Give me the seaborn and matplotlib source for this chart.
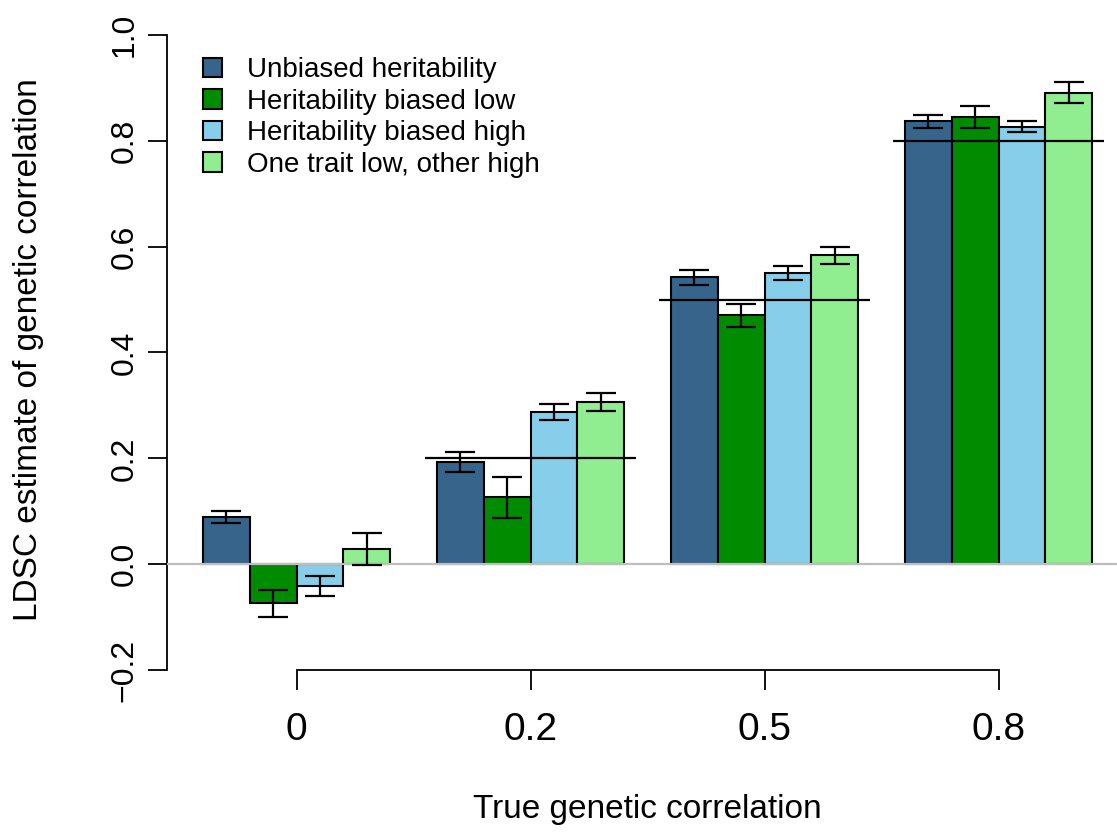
import numpy as np
import pandas as pd
import matplotlib
matplotlib.use("Agg")
import matplotlib.pyplot as plt
import seaborn as sns

# values
true_rg = ["0", "0.2", "0.5", "0.8"]
true_rg_values = [0.0, 0.2, 0.5, 0.8]
scenarios = [
    "Unbiased heritability",
    "Heritability biased low",
    "Heritability biased high",
    "One trait low, other high",
]
unbiased = [0.089, 0.193, 0.542, 0.837]
biased_low = [-0.074, 0.126, 0.470, 0.845]
biased_high = [-0.042, 0.288, 0.550, 0.827]
low_high = [0.028, 0.306, 0.584, 0.891]

unbiased_se = [0.012, 0.019, 0.014, 0.012]
biased_low_se = [0.025, 0.039, 0.021, 0.020]
biased_high_se = [0.019, 0.015, 0.013, 0.010]
low_high_se = [0.030, 0.017, 0.016, 0.020]

y_ticks = [-0.2, 0.0, 0.2, 0.4, 0.6, 0.8, 1.0]
y_tick_labels = ["\u22120.2", "0.0", "0.2", "0.4", "0.6", "0.8", "1.0"]

colors = ["#36648B", "#008B00", "#87CEEB", "#90EE90"]

means = [unbiased, biased_low, biased_high, low_high]
ses = [unbiased_se, biased_low_se, biased_high_se, low_high_se]

df = pd.DataFrame({
    "rg": np.tile(true_rg, len(scenarios)),
    "scenario": np.repeat(scenarios, len(true_rg)),
    "estimate": np.concatenate(means),
    "se": np.concatenate(ses),
})

sns.set_style("white")
plt.rcParams["font.family"] = ["Liberation Sans", "DejaVu Sans"]
plt.rcParams["text.color"] = "black"
plt.rcParams["axes.labelcolor"] = "black"
plt.rcParams["xtick.color"] = "black"
plt.rcParams["ytick.color"] = "black"

W, H = 1117, 833
fig = plt.figure(figsize=(W / 100, H / 100), dpi=100)
# axes placed in pixels: left 167.4, right 1127.8, top 35, bottom 670
ax = fig.add_axes([167.4 / W, (H - 670) / H, (1127.8 - 167.4) / W, 635 / H])

sns.barplot(
    data=df, x="rg", y="estimate", hue="scenario",
    order=true_rg, hue_order=scenarios, palette=colors,
    errorbar=None, width=0.8, edgecolor="black", linewidth=1.5,
    saturation=1, ax=ax, legend=True,
)

# error bars on top of each bar
for cont, m, s in zip(ax.containers, means, ses):
    xs = [p.get_x() + p.get_width() / 2 for p in cont.patches]
    ax.errorbar(xs, m, yerr=s, fmt="none", ecolor="black",
                elinewidth=1.6, capsize=11, capthick=1.6, zorder=6)

# true values as horizontal lines across each group
for i, v in enumerate(true_rg_values):
    if v == 0:
        continue
    ax.hlines(v, i - 0.452, i + 0.452, color="black", lw=1.6, zorder=5)

ax.axhline(0, color="#BEBEBE", lw=1.6, zorder=5)

ax.set_xlim(-0.552, 3.552)
ax.set_ylim(-0.2, 1.0)
ax.set_yticks(y_ticks)
ax.set_yticklabels(y_tick_labels, rotation=90, va="center")

for side in ["top", "right"]:
    ax.spines[side].set_visible(False)
ax.spines["left"].set_bounds(-0.2, 1.0)
ax.spines["bottom"].set_bounds(0, 3)
for side in ["left", "bottom"]:
    ax.spines[side].set_linewidth(1.3)
    ax.spines[side].set_color("black")

ax.tick_params(axis="x", direction="out", length=14.5, width=1.3,
               labelsize=28, pad=16, bottom=True)
ax.tick_params(axis="y", direction="out", length=14, width=1.3,
               labelsize=23, pad=6, left=True)

ax.set_xlabel("True genetic correlation", fontsize=24)
ax.set_ylabel("LDSC estimate of genetic correlation", fontsize=24)
ax.xaxis.set_label_coords(0.5, -0.195)
ax.yaxis.set_label_coords(-0.128, 0.505)

handles, labels = ax.get_legend_handles_labels()
ax.legend(handles, labels, loc="upper left", frameon=False,
          bbox_to_anchor=(203 / W, (H - 57) / H), bbox_transform=fig.transFigure,
          fontsize=20, handlelength=0.7, handleheight=0.7,
          handletextpad=0.9, labelspacing=0.2, borderpad=0, borderaxespad=0)

fig.savefig("out.png", dpi=100)
